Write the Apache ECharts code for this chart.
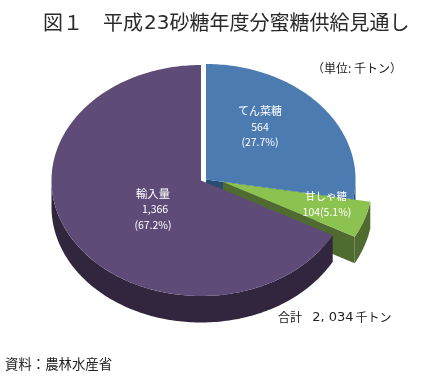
<!DOCTYPE html>
<html lang="ja">
<head>
<meta charset="utf-8">
<title>図1 平成23砂糖年度分蜜糖供給見通し</title>
<script src="https://cdn.jsdelivr.net/npm/echarts@6/dist/echarts.min.js"></script>
<style>
html, body { margin: 0; padding: 0; background: #fff; }
#chart { width: 447px; height: 376px; }
</style>
</head>
<body>
<div id="chart"></div>
<script>
// data
var categories = ["てん菜糖", "甘しゃ糖", "輸入量"];
var values = [564, 104, 1366];
var valueLabels = ["564", "104", "1,366"];
var percentLabels = ["(27.7%)", "(5.1%)", "(67.2%)"];
var titleText = "{j|図１　平成}{d|23}{j|砂糖年度分蜜糖供給見通し}";
var unitText = "（単位: 千トン）";
var totalText = "{j|合計}{d|  2, 034}{j|千トン}";
var sourceText = "資料：農林水産省";

// look of the slices
var topColors = ["#4b7bb1", "#8cc24f", "#5f4b78"];
var sideColors = ["#2b4c72", "#4f6b30", "#32263f"];
var centers = [[206, 179.5], [223, 182], [201, 180.5]];
var rx = 149.5, ry = 115.5, depth = 26.5;
var font = '"Noto Sans CJK JP", sans-serif';
var latin = '"DejaVu Sans", sans-serif';

var total = values.reduce(function (a, b) { return a + b; }, 0);

// clockwise angle from 12 o'clock -> point on the tilted ellipse
function pt(c, deg, dy) {
  var r = deg * Math.PI / 180;
  return [c[0] + Math.sin(r) * rx, c[1] - Math.cos(r) * ry + (dy || 0)];
}
function arcPoints(c, from, to, dy) {
  var pts = [];
  var n = Math.max(2, Math.ceil(Math.abs(to - from)));
  for (var i = 0; i <= n; i++) {
    pts.push(pt(c, from + (to - from) * i / n, dy));
  }
  return pts;
}

function renderSlice(params, api) {
  var i = params.dataIndex;
  var before = 0;
  for (var k = 0; k < i; k++) before += values[k];
  var from = before / total * 360;
  var to = (before + api.value(1)) / total * 360;
  var c = centers[i];
  var children = [];

  // radial wall of the far edge, seen only where the next slice leaves it open
  var e = pt(c, to);
  children.push({
    type: "polygon",
    shape: { points: [c, e, [e[0], e[1] + depth], [c[0], c[1] + depth]] },
    style: { fill: sideColors[i] }
  });

  // outer wall, only the part that faces the viewer
  var a = Math.max(from, 90), b = Math.min(to, 270);
  if (b > a) {
    var upper = arcPoints(c, a, b, 0);
    var lower = arcPoints(c, a, b, depth).reverse();
    children.push({
      type: "polygon",
      shape: { points: upper.concat(lower) },
      style: { fill: sideColors[i] }
    });
  }

  // top face
  children.push({
    type: "polygon",
    shape: { points: [c].concat(arcPoints(c, from, to, 0)) },
    style: { fill: topColors[i] }
  });
  return { type: "group", children: children };
}

function text(x, y, str, size, color, align, extra) {
  var style = {
    text: str,
    fill: color,
    fontFamily: font,
    fontSize: size,
    textAlign: align || "left",
    textVerticalAlign: "middle"
  };
  for (var key in extra) style[key] = extra[key];
  return { type: "text", x: x, y: y, z: 10, style: style };
}

function mixed(jSize, dSize, color, dPadding) {
  return {
    rich: {
      j: { fontFamily: font, fontSize: jSize, fill: color },
      d: { fontFamily: latin, fontSize: dSize, fill: color, padding: dPadding }
    }
  };
}

var myChart = echarts.init(document.getElementById("chart"));
myChart.setOption({
  animation: false,
  backgroundColor: "#fff",
  graphic: [
    text(43, 22, titleText, 20, "#2a2a2a", "left", mixed(20, 20, "#2a2a2a", [3, 0, 0, 1])),
    text(312, 68, unitText, 12, "#222"),
    text(278, 317, totalText, 12, "#222", "left", mixed(12, 13, "#222", [1, 2, 0, 2])),
    text(5, 364, sourceText, 13.4, "#222"),
    // てん菜糖
    text(260, 111, categories[0], 11, "#fff", "center"),
    text(260, 127, valueLabels[0], 10.5, "#fff", "center"),
    text(260, 142, percentLabels[0], 10.5, "#fff", "center"),
    // 甘しゃ糖
    text(326, 196, categories[1], 10.5, "#fff", "center"),
    text(327, 212, valueLabels[1] + percentLabels[1], 10.5, "#fff", "center"),
    // 輸入量
    text(153, 194, categories[2], 11.3, "#fff", "center"),
    text(155, 209, valueLabels[2], 10.5, "#fff", "center"),
    text(153, 225, percentLabels[2], 10.5, "#fff", "center")
  ],
  series: [{
    type: "custom",
    coordinateSystem: "none",
    renderItem: renderSlice,
    silent: true,
    data: values.map(function (v, i) { return [i, v]; })
  }]
});
</script>
</body>
</html>
